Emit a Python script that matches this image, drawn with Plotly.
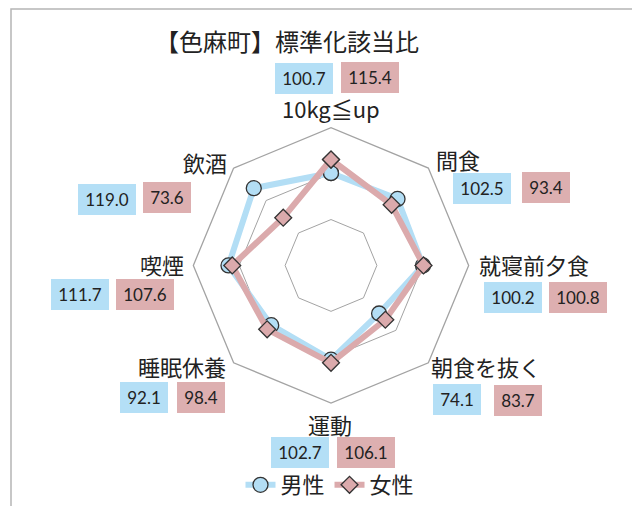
import plotly.graph_objects as go

# ---- data ----
categories = ["10kg≦up", "間食", "就寝前夕食", "朝食を抜く", "運動", "睡眠休養", "喫煙", "飲酒"]
male_values = [100.7, 102.5, 100.2, 74.1, 102.7, 92.1, 111.7, 119.0]
female_values = [115.4, 93.4, 100.8, 83.7, 106.1, 98.4, 107.6, 73.6]
series_names = ["男性", "女性"]
title_text = "【色麻町】標準化該当比"

# ---- style ----
WIN_W, WIN_H = 640, 506
OFF = 8  # default page body margin
W, H = WIN_W - OFF, WIN_H - OFF
BLUE = "#B3DEF5"
PINK = "#DBAAAC"
BOX_BLUE = "#B4DFF6"
BOX_PINK = "#DDAFB0"
GRID = "#A3A3A3"
TXT = "#222222"
JP = "Noto Sans CJK JP"
NUM = "Lato"

# polar centre / radius in window pixels
cx, cy, R = 331, 267, 138.5


def px(x):
    return (x - OFF) / W


def py(y):
    return (H - (y - OFF)) / H


# label layout (window pixel centres): category label, blue box, pink box
label_pos = [(331, 109), (458, 160), (534, 266), (486, 368), (330, 427), (182, 368), (162, 266), (205, 163)]
blue_box_pos = [(304, 79), (482, 190), (513, 299), (457, 402), (300, 455), (144, 400), (80, 296), (107, 201)]
pink_box_pos = [(370, 78), (546, 189), (578, 299), (518, 403), (366, 455), (201, 400), (145, 296), (167, 199)]

fig = go.Figure()
for name, vals, color, symbol, msize in [
    (series_names[0], male_values, BLUE, "circle", 15),
    (series_names[1], female_values, PINK, "diamond", 13),
]:
    fig.add_trace(go.Scatterpolar(
        r=vals + vals[:1],
        theta=categories + categories[:1],
        mode="lines+markers",
        name=name,
        line=dict(color=color, width=6),
        marker=dict(symbol=symbol, size=msize, color=color, line=dict(color="#333333", width=1.3)),
    ))

annotations = []
annotations.append(dict(
    x=px(287), y=py(41), xref="paper", yref="paper", text=title_text, showarrow=False,
    font=dict(family=JP, size=24, color=TXT), xanchor="center", yanchor="middle",
))
for i, cat in enumerate(categories):
    lx, ly = label_pos[i]
    annotations.append(dict(
        x=px(lx), y=py(ly), xref="paper", yref="paper", text=cat, showarrow=False,
        font=dict(family=JP, size=22, color=TXT), xanchor="center", yanchor="middle",
        height=30, borderpad=0, borderwidth=0, valign="middle",
    ))
    for val, pos, bg in [(male_values[i], blue_box_pos[i], BOX_BLUE), (female_values[i], pink_box_pos[i], BOX_PINK)]:
        s = f"{val:.1f}"
        bw = 58 if len(s) >= 5 else 48
        annotations.append(dict(
            x=px(pos[0]), y=py(pos[1]), xref="paper", yref="paper", text=s, showarrow=False,
            font=dict(family=NUM, size=17, color=TXT), xanchor="center", yanchor="middle",
            bgcolor=bg, width=bw, height=31, borderpad=0, borderwidth=0, valign="middle",
        ))

shapes = [dict(
    type="rect", xref="paper", yref="paper",
    x0=px(11), x1=px(634), y0=-0.2, y1=py(9),
    line=dict(color="#B5B5B5", width=1.5), fillcolor="rgba(0,0,0,0)", layer="below",
)]

fig.update_layout(
    width=W, height=H,
    margin=dict(l=0, r=0, t=0, b=0),
    paper_bgcolor="white",
    plot_bgcolor="white",
    font=dict(family=JP, color=TXT),
    showlegend=True,
    legend=dict(
        orientation="h", x=px(330), xanchor="center", y=py(488), yanchor="middle",
        font=dict(family=JP, size=22, color=TXT), bgcolor="rgba(0,0,0,0)",
        itemsizing="trace",
    ),
    polar=dict(
        domain=dict(x=[px(cx - R), px(cx + R)], y=[py(cy + R), py(cy - R)]),
        bgcolor="white",
        gridshape="linear",
        radialaxis=dict(
            range=[0, 150], tickvals=[50, 100, 150], showticklabels=False, ticks="",
            showline=False, gridcolor=GRID, gridwidth=1.3,
        ),
        angularaxis=dict(
            rotation=90, direction="clockwise", showgrid=False, showticklabels=False,
            ticks="", showline=True, linecolor=GRID, linewidth=1.3,
        ),
    ),
    annotations=annotations,
    shapes=shapes,
)

fig.write_html("out.html")
